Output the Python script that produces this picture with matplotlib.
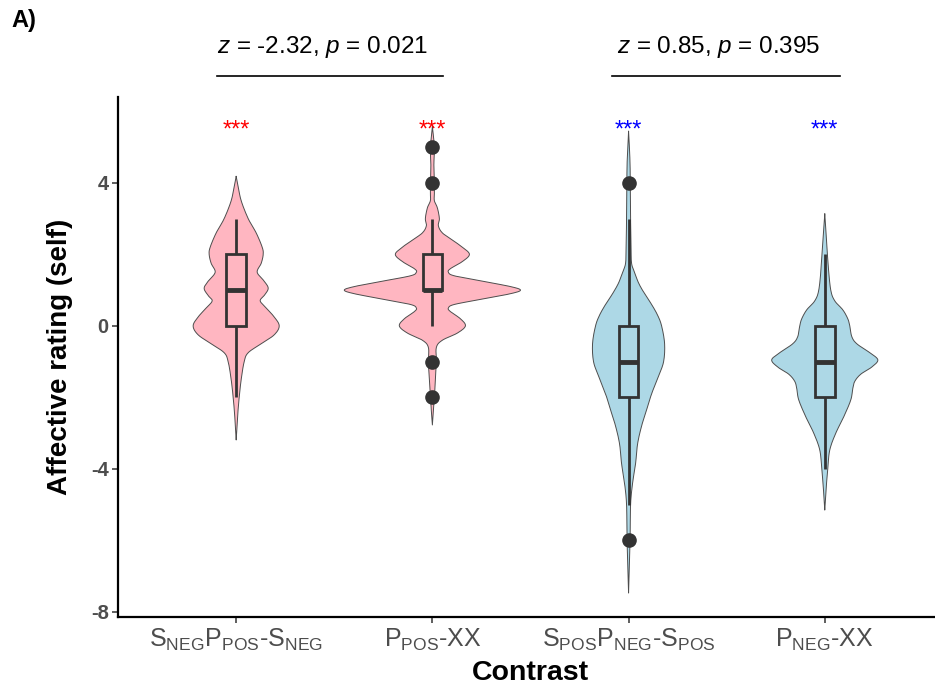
import numpy as np
import matplotlib.pyplot as plt

plt.rcParams['font.family'] = ['Liberation Sans', 'DejaVu Sans']
plt.rcParams['mathtext.fontset'] = 'custom'
plt.rcParams['mathtext.rm'] = 'Liberation Sans'
plt.rcParams['mathtext.it'] = 'Liberation Sans:italic'
plt.rcParams['mathtext.bf'] = 'Liberation Sans:bold'

# categories
contrasts = [r'S$_{\mathrm{NEG}}$P$_{\mathrm{POS}}$-S$_{\mathrm{NEG}}$',
             r'P$_{\mathrm{POS}}$-XX',
             r'S$_{\mathrm{POS}}$P$_{\mathrm{NEG}}$-S$_{\mathrm{POS}}$',
             r'P$_{\mathrm{NEG}}$-XX']
fills = ['#FFB6C1', '#FFB6C1', '#ADD8E6', '#ADD8E6']
star_colors = ['red', 'red', 'blue', 'blue']

# violin outlines: rating value and half width (px at 196 px per category)
sneg_y = [4.18, 3.9, 3.5, 3.0, 2.6, 2.2, 2.0, 1.75, 1.5, 1.25, 1.05, 0.85, 0.7,
          0.5, 0.25, 0.0, -0.25, -0.5, -0.75, -1.0, -1.5, -2.0, -2.5, -3.19]
sneg_w = [0, 2, 5, 12, 20, 26, 27, 25, 21, 28, 32, 28, 24,
          30, 38, 43, 38, 25, 12, 8, 5, 3, 1.5, 0]
ppos_y = [5.57, 5.0, 4.5, 4.0, 3.7, 3.5, 3.3, 3.0, 2.8, 2.6, 2.4, 2.2, 2.0, 1.8,
          1.6, 1.5, 1.4, 1.25, 1.1, 1.0, 0.9, 0.75, 0.6, 0.5, 0.4, 0.2, 0.0,
          -0.2, -0.4, -0.6, -1.0, -1.5, -2.0, -2.77]
ppos_w = [0, 2, 1.5, 2, 2, 2, 5, 7, 6, 10, 20, 30, 37, 30,
          18, 16, 22, 50, 78, 88, 78, 50, 22, 16, 18, 28, 33,
          25, 10, 4, 4, 3, 2, 0]
spos_y = [5.44, 4.5, 3.0, 2.2, 1.75, 1.5, 1.2, 0.9, 0.6, 0.3, 0.0, -0.5, -1.0,
          -1.4, -1.9, -2.35, -2.8, -3.3, -3.85, -4.4, -5.0, -6.0, -7.47]
spos_w = [0, 1.5, 2, 2.5, 3, 6, 10, 16, 23, 29, 33, 36, 35,
          30, 23, 18, 13, 9, 7, 4, 2, 1.5, 0]
pneg_y = [3.13, 2.3, 1.66, 1.0, 0.7, 0.45, 0.2, 0.0, -0.3, -0.5, -0.75, -0.95,
          -1.15, -1.35, -1.55, -1.75, -2.07, -2.54, -3.0, -3.47, -4.0, -4.5, -5.15]
pneg_w = [0, 2, 3.5, 6, 10, 18, 23, 25, 27, 32, 45, 53,
          47, 36, 30, 28, 26, 19, 11, 5, 3, 1.5, 0]
violin_y = [sneg_y, ppos_y, spos_y, pneg_y]
violin_w = [sneg_w, ppos_w, spos_w, pneg_w]

# boxplot stats
q1 = [0, 1, -2, -2]
med = [1, 1, -1, -1]
q3 = [2, 2, 0, 0]
whisk_lo = [-2, 0, -5, -4]
whisk_hi = [3, 3, 3, 2]
outliers = [[], [5, 4, -1, -2], [4, -6], []]

# tests between pairs
pairs = [(0.9, 2.055), (2.913, 4.077)]
tests = [r'$\it{z}$ = -2.32, $\it{p}$ = 0.021', r'$\it{z}$ = 0.85, $\it{p}$ = 0.395']
test_x = [1.44, 3.46]


def smooth(y, w, n=12):
    # catmull-rom through the read points, for a rounded outline
    p = np.column_stack([y, w]).astype(float)
    p = np.vstack([p[0], p, p[-1]])
    out = []
    for i in range(1, len(p) - 2):
        p0, p1, p2, p3 = p[i - 1], p[i], p[i + 1], p[i + 2]
        for t in np.linspace(0, 1, n, endpoint=False):
            out.append(0.5 * (2 * p1 + (-p0 + p2) * t
                              + (2 * p0 - 5 * p1 + 4 * p2 - p3) * t ** 2
                              + (-p0 + 3 * p1 - 3 * p2 + p3) * t ** 3))
    out.append(p[-2])
    out = np.array(out)
    return out[:, 0], np.clip(out[:, 1], 0, None)


fig = plt.figure(figsize=(9.35, 6.92), dpi=100)
ax = fig.add_axes([0.1267, 0.1084, 0.8813, 0.7519])

box_w = 0.1
dark = '#333333'
for i in range(4):
    x = i + 1
    ys, ws = smooth(violin_y[i], violin_w[i])
    ws = ws / 196.0
    ax.fill_betweenx(ys, x - ws, x + ws, facecolor=fills[i], edgecolor='none', zorder=1)
    ax.plot(np.concatenate([x - ws, (x + ws)[::-1]]), np.concatenate([ys, ys[::-1]]),
            color='#4D4D4D', lw=0.7, zorder=2)
    # whiskers
    ax.plot([x, x], [q3[i], whisk_hi[i]], color=dark, lw=2.0, zorder=3, solid_capstyle='butt')
    ax.plot([x, x], [whisk_lo[i], q1[i]], color=dark, lw=2.0, zorder=3, solid_capstyle='butt')
    # box
    ax.add_patch(plt.Rectangle((x - box_w / 2, q1[i]), box_w, q3[i] - q1[i],
                               facecolor=fills[i], edgecolor=dark, lw=2.0, zorder=3))
    ax.plot([x - box_w / 2, x + box_w / 2], [med[i], med[i]], color=dark, lw=3.5,
            zorder=4, solid_capstyle='butt')
    if outliers[i]:
        ax.plot([x] * len(outliers[i]), outliers[i], 'o', color=dark, ms=9.5,
                mec=dark, zorder=5)
    ax.text(x, 5.45, '***', color=star_colors[i], ha='center', va='center', fontsize=17)

for (a, b), t, tx in zip(pairs, tests, test_x):
    ax.plot([a, b], [7.0, 7.0], color='black', lw=1.2, clip_on=False)
    ax.text(tx, 7.8, t, ha='center', va='center', fontsize=17.5, clip_on=False)

fig.text(0.012, 0.971, 'A)', fontsize=17, fontweight='bold', va='center', ha='left')

ax.set_xlim(0.4, 4.6)
ax.set_ylim(-8.14, 6.41)
ax.set_xticks([1, 2, 3, 4])
ax.set_xticklabels(contrasts, fontsize=18)
ax.set_yticks([-8, -4, 0, 4])
ax.set_yticklabels(['-8', '-4', '0', '4'], fontsize=14.5, fontweight='bold')
ax.tick_params(length=4, width=1.1, color='#333333', labelcolor='#4D4D4D', pad=3)
for s in ['top', 'right']:
    ax.spines[s].set_visible(False)
for s in ['left', 'bottom']:
    ax.spines[s].set_linewidth(1.6)
ax.set_xlabel('Contrast', fontsize=20.5, fontweight='bold', labelpad=5)
ax.set_ylabel('Affective rating (self)', fontsize=20, fontweight='bold', labelpad=13)

fig.savefig('out.png', dpi=100)
